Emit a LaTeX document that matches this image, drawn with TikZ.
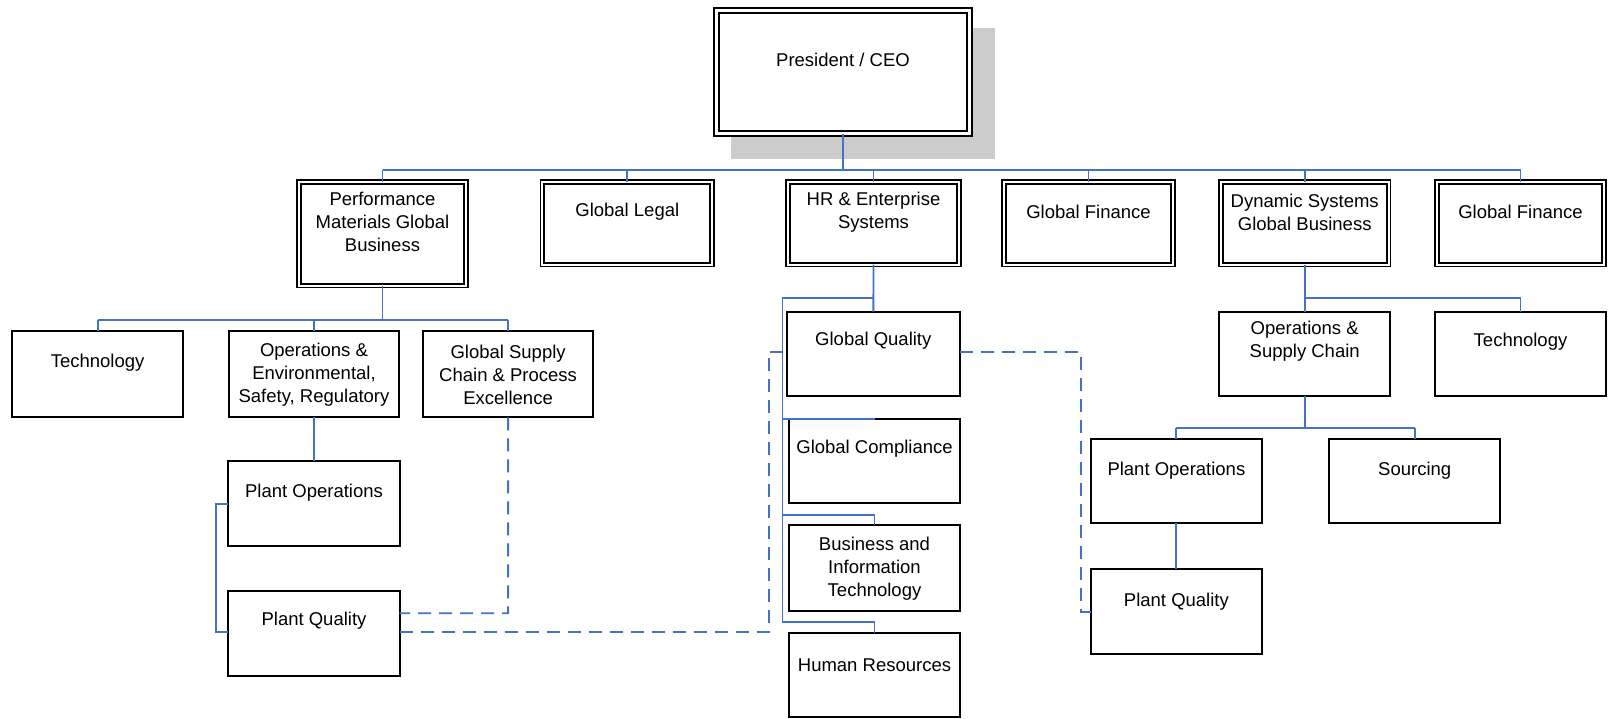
\documentclass[tikz,border=0pt]{standalone}
\usepackage{fontspec}
\setmainfont{Liberation Sans}
\definecolor{connblue}{RGB}{68,114,196}
\definecolor{shadowgray}{RGB}{204,204,204}
\newcommand{\mybox}[6]{%
  \node[#1, minimum width={(#5)-(#3)}, minimum height={(#6)-(#4)}] (#2) at ({((#3)+(#5))/2},{((#4)+(#6))/2}) {};}
\begin{document}
\begin{tikzpicture}[x=1pt,y=-1pt,
  plainbox/.style={draw=black, fill=white, line width=2pt, inner sep=0pt, outer sep=0pt},
  dblbox/.style={draw=black, fill=white, line width=1.8pt, double=white, double distance=2pt, inner sep=0pt, outer sep=0pt},
  ceobox/.style={draw=black, fill=white, line width=2.3pt, double=white, double distance=2.4pt, inner sep=0pt, outer sep=0pt},
  txt/.style={align=center, inner sep=0pt, font=\fontsize{18.5}{23}\selectfont},
  conn/.style={draw=connblue, line width=1.8pt},
  dashconn/.style={draw=connblue, line width=1.8pt, dash pattern=on 13pt off 8pt}]
\path[use as bounding box, fill=white] (0,0) rectangle (1608,718);

% shadow and CEO
\fill[shadowgray] (731,28) rectangle (995,159);
\mybox{ceobox}{ceo}{716.5}{10.5}{969.5}{133.5}
\node[txt] (ceo-t) at (843,60) {President / CEO};

% level 2
\mybox{dblbox}{pm}{298.8}{182.1}{466.2}{285.5}
\mybox{dblbox}{gl}{542.3}{182.1}{712.2}{264.5}
\mybox{dblbox}{hr}{788.2}{182.1}{958.7}{264.5}
\mybox{dblbox}{gfa}{1004.2}{182.1}{1172.9}{264.5}
\mybox{dblbox}{ds}{1220.8}{182.1}{1388.6}{264.5}
\mybox{dblbox}{gfb}{1436.8}{182.1}{1604.2}{264.5}
\node[txt] (pm-t) at (382.5,222) {Performance\\Materials Global\\Business};
\node[txt] (gl-t) at (627.3,211.7) {Global Legal};
\node[txt] (hr-t) at (873.5,212) {HR \& Enterprise\\Systems};
\node[txt] (gfa-t) at (1088.5,211.7) {Global Finance};
\node[txt] (ds-t) at (1304.7,212.5) {Dynamic Systems\\Global Business};
\node[txt] (gfb-t) at (1520.5,211.7) {Global Finance};

% left branch
\mybox{plainbox}{tl}{12}{331}{183.3}{417.3}
\mybox{plainbox}{ops}{228.8}{331}{399.2}{417.3}
\mybox{plainbox}{gsc}{422.9}{331}{593.3}{417.3}
\mybox{plainbox}{pol}{228.4}{461}{399.6}{545.7}
\mybox{plainbox}{pql}{228.4}{591}{399.6}{675.7}
\node[txt] (tl-t) at (97.6,362.7) {Technology};
\node[txt] (ops-t) at (314,374.5) {Operations \&\\Environmental,\\Safety, Regulatory};
\node[txt] (gsc-t) at (508.1,374.5) {Global Supply\\Chain \& Process\\Excellence};
\node[txt] (pol-t) at (314,492.7) {Plant Operations};
\node[txt] (pql-t) at (314,621) {Plant Quality};

% middle branch
\mybox{plainbox}{gq}{787}{311.7}{959.7}{395.7}
\mybox{plainbox}{gc}{789.3}{419.3}{959.7}{503.3}
\mybox{plainbox}{bit}{789.3}{525.3}{959.7}{611.3}
\mybox{plainbox}{hres}{789.3}{633.3}{959.7}{716.5}
\node[txt] (gq-t) at (873.3,341) {Global Quality};
\node[txt] (gc-t) at (874.5,449) {Global Compliance};
\node[txt] (bit-t) at (874.5,568.3) {Business and\\Information\\Technology};
\node[txt] (hres-t) at (874.5,665) {Human Resources};

% right branch
\mybox{plainbox}{osc}{1219}{311.7}{1390.4}{395.7}
\mybox{plainbox}{techr}{1435}{311.7}{1606}{395.7}
\mybox{plainbox}{por}{1091}{439.3}{1261.7}{523.3}
\mybox{plainbox}{src}{1329.4}{439.3}{1500}{523.3}
\mybox{plainbox}{pqr}{1091}{569.3}{1261.7}{654}
\node[txt] (osc-t) at (1304.7,341) {Operations \&\\Supply Chain};
\node[txt] (techr-t) at (1520.5,341.7) {Technology};
\node[txt] (por-t) at (1176.4,471) {Plant Operations};
\node[txt] (src-t) at (1414.7,471) {Sourcing};
\node[txt] (pqr-t) at (1176.4,601.7) {Plant Quality};

% coordinates
\coordinate (bus) at (843,170);
\coordinate (pmj) at (382.5,320);
\coordinate (hrj) at (873.5,298);
\coordinate (hrl) at (782.4,298);
\coordinate (hrb) at (782.4,622.3);
\coordinate (bitj) at (782.4,515);
\coordinate (dsj) at (1304.7,298);
\coordinate (oscj) at (1304.7,428.3);
\coordinate (brt) at (215.6,504);
\coordinate (brb) at (215.6,632.3);
\coordinate (d1) at (508.1,613.3);
\coordinate (d2a) at (768.6,632.3);
\coordinate (d2b) at (768.6,351.7);
\coordinate (d3a) at (1080.8,351.7);
\coordinate (d3b) at (1080.8,611.7);

% top level connectors
\draw[conn] (ceo.south) -- (bus);
\draw[conn] (bus -| pm.north) -- (bus -| gfb.north);
\foreach \n in {pm,gl,hr,gfa,ds,gfb} \draw[conn] (bus -| \n.north) -- (\n.north);

% left connectors
\draw[conn] (pm.south) -- (pmj);
\draw[conn] (pmj -| tl.north) -- (pmj -| gsc.north);
\foreach \n in {tl,ops,gsc} \draw[conn] (pmj -| \n.north) -- (\n.north);
\draw[conn] (ops.south) -- (pol.north);
\draw[conn] (brt -| pol.west) -- (brt) -- (brb) -- (brb -| pql.west);

% middle connectors
\draw[conn] (hr.south) -- (gq.north);
\draw[conn] (hrj) -- (hrl) -- (hrb);
\draw[conn] (hrl |- gc.north) -- (gc.north);
\draw[conn] (bitj) -- (bitj -| bit.north) -- (bit.north);
\draw[conn] (hrb) -- (hrb -| hres.north) -- (hres.north);

% right connectors
\draw[conn] (ds.south) -- (osc.north);
\draw[conn] (dsj) -- (dsj -| techr.north) -- (techr.north);
\draw[conn] (osc.south) -- (oscj);
\draw[conn] (oscj -| por.north) -- (oscj -| src.north);
\draw[conn] (oscj -| por.north) -- (por.north);
\draw[conn] (oscj -| src.north) -- (src.north);
\draw[conn] (por.south) -- (pqr.north);

% dashed connectors
\draw[dashconn] (gsc.south) -- (d1) -- (d1 -| pql.east);
\draw[dashconn] (d2a -| pql.east) -- (d2a) -- (d2b) -- (d2b -| gq.west);
\draw[dashconn] (d3a -| gq.east) -- (d3a) -- (d3b) -- (d3b -| pqr.west);
\end{tikzpicture}
\end{document}
